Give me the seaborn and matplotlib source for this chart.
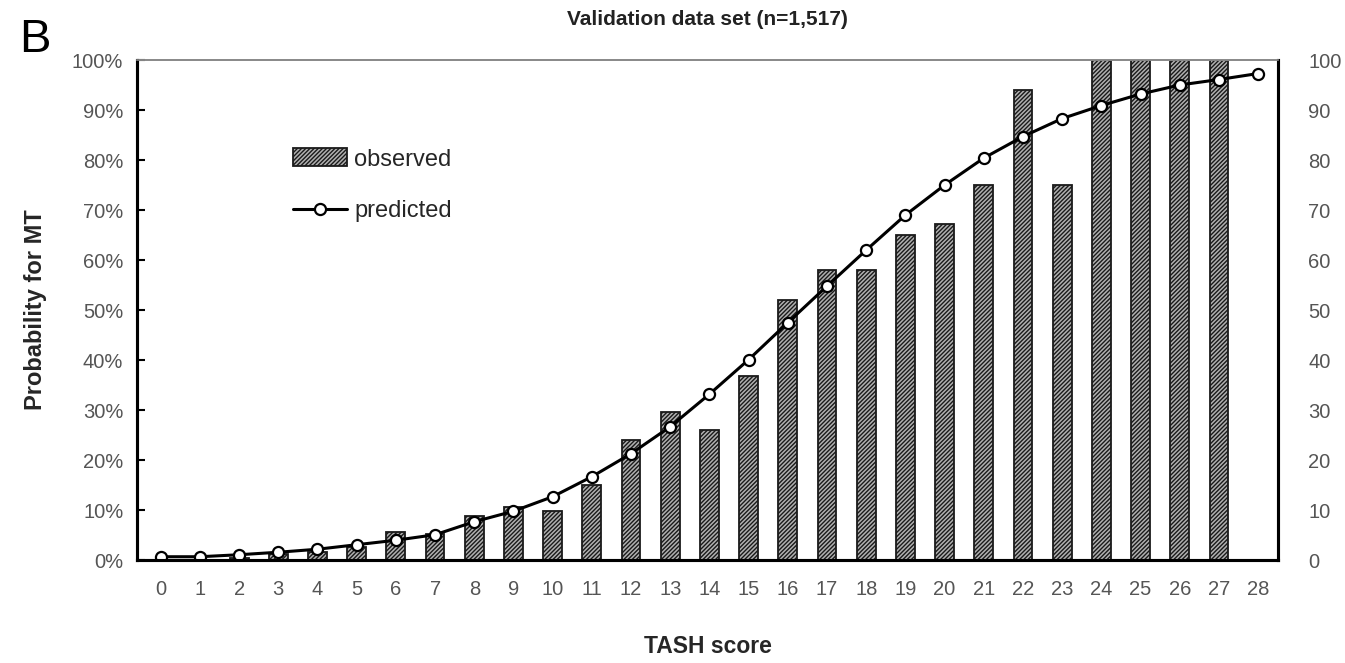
import numpy as np
import pandas as pd
import matplotlib.pyplot as plt
import matplotlib.patches as mpatches
import matplotlib.lines as mlines
import seaborn as sns

# ── data (percent) ────────────────────────────────────────────────────────────
tash_score = list(range(0, 29))
observed = [0, 0, 0.5, 1.2, 1.7, 2.7, 5.7, 5.3, 8.8, 10.7,
            9.8, 15, 24, 29.7, 26, 36.8, 52, 58, 58, 65,
            67.3, 75, 94, 75, 100, 100, 100, 100, 0]
predicted = [0.7, 0.7, 1.1, 1.6, 2.2, 3.1, 4.0, 5.1, 7.7, 9.8,
             12.7, 16.7, 21.3, 26.7, 33.2, 40.1, 47.5, 54.8, 62, 69,
             75, 80.4, 84.7, 88.3, 90.9, 93.2, 95, 96.1, 97.3]

df = pd.DataFrame({"score": tash_score, "observed": observed, "predicted": predicted})

sns.set_style("white")
plt.rcParams["font.family"] = ["Liberation Sans", "DejaVu Sans"]
plt.rcParams["hatch.linewidth"] = 1.0
plt.rcParams["hatch.color"] = "#2a2a2a"

fig = plt.figure(figsize=(13.45, 6.63), dpi=100)
ax = fig.add_axes([0.102, 0.155, 0.848, 0.7545])

sns.barplot(data=df, x="score", y="observed", ax=ax, color="#b0b0b0",
            saturation=1, width=0.48, edgecolor="#1a1a1a", linewidth=1.3,
            hatch="////////", errorbar=None)
ax.plot(df["score"], df["predicted"], color="black", linewidth=2.2,
        marker="o", markersize=8, markerfacecolor="white",
        markeredgecolor="black", markeredgewidth=1.6, zorder=5)

ax.set_xlim(-0.6, 28.5)
ax.set_ylim(0, 100)
ax.set_yticks(np.arange(0, 101, 10))
ax.set_yticklabels([f"{v}%" for v in range(0, 101, 10)])
ax.tick_params(axis="y", direction="in", length=6, width=1.5, colors="black",
               labelcolor="#555555", labelsize=14.5, pad=10)
ax.tick_params(axis="x", length=0, labelcolor="#555555", labelsize=14.5, pad=14)

ax2 = ax.twinx()
ax2.set_ylim(0, 100)
ax2.set_yticks(np.arange(0, 101, 10))
ax2.tick_params(axis="y", length=0, labelcolor="#555555", labelsize=14.5, pad=22)

for a in (ax, ax2):
    for side in ("left", "right", "bottom"):
        a.spines[side].set_visible(True)
        a.spines[side].set_color("black")
        a.spines[side].set_linewidth(2.2)
    a.spines["top"].set_color("#888888")
    a.spines["top"].set_linewidth(1.2)

ax.set_xlabel("TASH score", fontsize=16.5, fontweight="bold", labelpad=26)
ax.set_ylabel("Probability for MT", fontsize=17, fontweight="bold", labelpad=18)
ax.set_title("Validation data set (n=1,517)", fontsize=15, fontweight="bold",
             color="#222222", pad=25)
fig.text(0.014, 0.922, "B", fontsize=34, color="black")

obs_handle = mpatches.Patch(facecolor="#b0b0b0", edgecolor="#1a1a1a",
                            hatch="////////", linewidth=1.3, label="observed")
pred_handle = mlines.Line2D([], [], color="black", linewidth=2.2, marker="o",
                            markersize=8, markerfacecolor="white",
                            markeredgewidth=1.6, label="predicted")
ax.legend(handles=[obs_handle, pred_handle], loc="upper left",
          bbox_to_anchor=(0.118, 0.866), frameon=False, fontsize=17,
          handlelength=2.3, handleheight=0.8, labelspacing=1.25,
          handletextpad=0.3)

fig.savefig("out.png", dpi=100)
